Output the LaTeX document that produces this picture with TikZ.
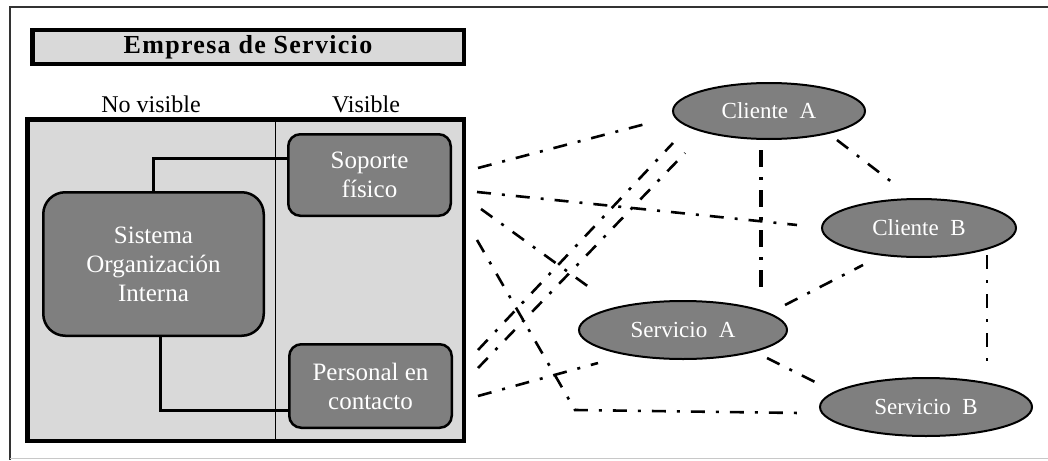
\documentclass[tikz,border=0pt]{standalone}
\usepackage{fontspec}
\setmainfont{Liberation Serif}
\newfontfamily\titlefont[LetterSpace=5]{Liberation Serif}
\usetikzlibrary{shapes.geometric}
\definecolor{boxgray}{HTML}{7F7F7F}
\definecolor{panelgray}{HTML}{D9D9D9}
\definecolor{rulegray}{HTML}{C8C8C8}

\begin{document}
\begin{tikzpicture}[x=1pt,y=-1pt,
  rbox/.style={draw=black, line width=2.5pt, fill=boxgray, text=white,
    align=center, inner sep=0pt, font=\fontsize{25}{29}\selectfont},
  oval/.style={ellipse, draw=black, line width=2pt, fill=boxgray, text=white,
    inner sep=0pt, font=\fontsize{23}{26}\selectfont},
  label/.style={font=\fontsize{24}{28}\selectfont, inner sep=0pt},
  link/.style={line width=2.6pt, dash pattern=on 14pt off 11pt on 3pt off 11pt},
  boldlink/.style={line width=4pt, dash pattern=on 17pt off 10pt on 3pt off 10pt},
  wire/.style={line width=3pt}
]
\useasboundingbox (0,0) rectangle (1048,460);

% page frame
\draw[line width=2pt, black!80] (1048,7) -- (10,7) -- (10,460);
\draw[line width=1pt, rulegray] (10,458) -- (1048,458);

% title bar
\node[draw=black, line width=4.5pt, fill=panelgray, minimum width=431.5pt,
  minimum height=33.5pt, inner sep=0pt] (title) at (248,47)
  {\titlefont\bfseries\fontsize{26}{28}\selectfont Empresa de Servicio};

% company panel split into non-visible / visible parts
\node[draw=black, line width=4.5pt, fill=panelgray, minimum width=436.5pt,
  minimum height=321.5pt, inner sep=0pt] (panel) at (245.5,280) {};
\draw[line width=0.8pt] (275,117) -- (275,443);
\node[label] (novis) at (151,104) {No visible};
\node[label] (vis) at (366,104) {Visible};

% internal boxes
\node[rbox, rounded corners=12pt, minimum width=162.5pt, minimum height=81.5pt]
  (sop) at (369.5,175) {Soporte\\físico};
\node[rbox, rounded corners=22pt, minimum width=220.5pt, minimum height=143.5pt]
  (sis) at (153.5,264) {Sistema\\Organización\\Interna};
\node[rbox, rounded corners=12pt, minimum width=162.5pt, minimum height=83.5pt]
  (per) at (370.5,386) {Personal en\\contacto};

\draw[wire] (sis.north) |- ([yshift=17pt]sop.west);
\draw[wire] ([xshift=6.5pt]sis.south) |- ([yshift=-24pt]per.west);

% clients and services
\node[oval, minimum width=192pt, minimum height=56pt] (cA) at (769,111) {Cliente\ \ A};
\node[oval, minimum width=194pt, minimum height=58pt] (cB) at (919,228) {Cliente\ \ B};
\node[oval, minimum width=208pt, minimum height=58pt] (sA) at (683,330) {Servicio\ \ A};
\node[oval, minimum width=212pt, minimum height=58pt] (sB) at (926,407) {Servicio\ \ B};

% loose ends of the relation lines
\coordinate (sop1) at (478,168);
\coordinate (sop2) at (477,192);
\coordinate (sop3) at (481,209);
\coordinate (sop4) at (477,240);
\coordinate (per1) at (478,350);
\coordinate (per2) at (478,368);
\coordinate (per3) at (478,396);
\coordinate (cA1) at (653,122);
\coordinate (cA2) at (673,143);
\coordinate (cA3) at (685,153);
\coordinate (cA4) at (761,150);
\coordinate (cA5) at (837,140);
\coordinate (cB1) at (797,225);
\coordinate (cB2) at (893,183);
\coordinate (cB3) at (863,265);
\coordinate (cB4) at (987,255);
\coordinate (sA1) at (593,290);
\coordinate (sA2) at (598,363);
\coordinate (sA3) at (761,287);
\coordinate (sA4) at (785,305);
\coordinate (sA5) at (767,358);
\coordinate (bend) at (575,410);
\coordinate (sB1) at (800,413);
\coordinate (sB2) at (987,363);
\coordinate (sB3) at (819,384);

\draw[link] (sop1) -- (cA1);
\draw[link] (sop2) -- (cB1);
\draw[link] (sop3) -- (sA1);
\draw[link] (sop4) -- (bend) -- (sB1);
\draw[link] (per1) -- (cA2);
\draw[link] (per2) -- (cA3);
\draw[link] (per3) -- (sA2);
\draw[boldlink] (cA4) -- (sA3);
\draw[link] (cA5) -- (cB2);
\draw[link] (sA4) -- (cB3);
\draw[link] (cB4) -- (sB2);
\draw[link] (sA5) -- (sB3);
\end{tikzpicture}
\end{document}
